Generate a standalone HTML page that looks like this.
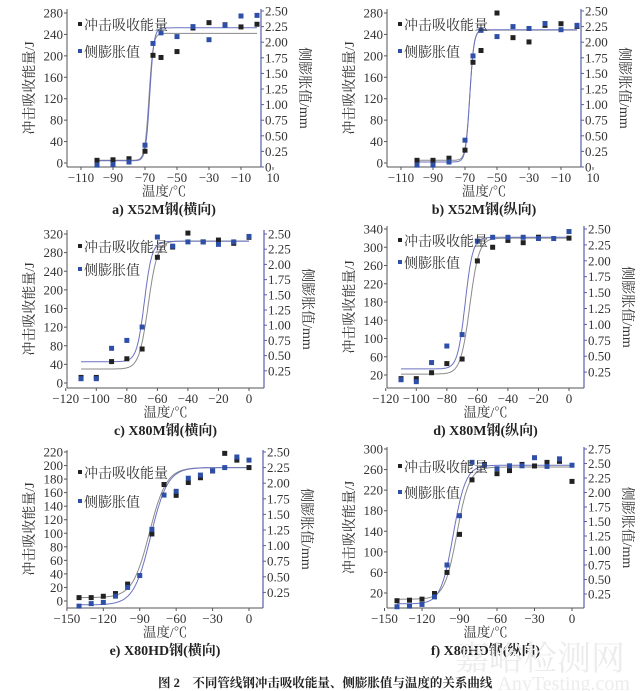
<!DOCTYPE html>
<html><head><meta charset="utf-8"><style>
html,body{margin:0;padding:0;background:#fff;}
svg{display:block;font-family:"Liberation Serif","Noto Serif CJK SC",serif;}
</style></head><body>
<svg id="s" width="643" height="691" viewBox="0 0 643 691" xmlns="http://www.w3.org/2000/svg"></svg>
<script>
var S=document.getElementById('s'),h='';
function T(x,y,t,o){o=o||{};h+='<text x="'+x+'" y="'+y+'" font-size="'+(o.fs||13)+'" fill="'+(o.c||'#333')+'" text-anchor="'+(o.a||'middle')+'"'+(o.tr?' transform="'+o.tr+'"':'')+(o.w?' font-weight="bold"':'')+'>'+t+'</text>';}
function L(x1,y1,x2,y2,c,w){h+='<line x1="'+x1+'" y1="'+y1+'" x2="'+x2+'" y2="'+y2+'" stroke="'+c+'" stroke-width="'+(w||1)+'"/>';}
function P(p){
 var X=function(t){return p.x0+p.xs*t;};
 var YL=function(v){return p.l0+(p.l1-p.l0)*(v-p.lv[0])/(p.lv[1]-p.lv[0]);};
 var YR=function(v){return p.r0+(p.r1-p.r0)*v/p.rmax;};
 var top=p.top,bot=p.bot;
 L(p.ax,top,p.ax,bot,'#555');L(p.ax,bot,p.bx,bot,'#555');L(p.bx,top,p.bx,bot,'#5860a8',1.2);
 p.lt.forEach(function(v){var y=YL(v);L(p.ax-3,y,p.ax,y,'#555');T(p.ax-4,y+4.5,v,{a:'end'});});
 p.rt.forEach(function(v){var y=YR(v);L(p.bx,y,p.bx+3,y,'#5860a8');T(p.bx+4,y+4.5,v==0?'0':v.toFixed(2),{a:'start'});});
 p.xt.forEach(function(v){var x=X(v);L(x,bot,x,bot+3,'#555');T(x,bot+15,v<0?'\u2212'+(-v):v);});
 T((p.ax+p.bx)/2,bot+29,'温度/℃',{fs:13.5});
 T((p.ax+p.bx)/2,bot+47,p.cap,{fs:14,w:1,c:'#222'});
 var cy=(top+bot)/2;
 T(p.ax-33,cy,'冲击吸收能量/J',{fs:14,tr:'rotate(-90 '+(p.ax-33)+' '+cy+')'});
 T(p.bx+39,cy,'侧膨胀值/mm',{fs:14,tr:'rotate(90 '+(p.bx+39)+' '+cy+')'});
 function cur(f,c){var d='';for(var t=p.cr[0];t<=p.cr[1];t+=0.5){d+=(d?'L':'M')+X(t).toFixed(1)+' '+f(t).toFixed(1);}h+='<path d="'+d+'" fill="none" stroke="'+c+'" stroke-width="1"/>';}
 var b=p.bc,u=p.uc;
 cur(function(t){return YL(b[0]+(b[1]-b[0])/(1+Math.exp(-(t-b[2])/b[3])));},'#8a8a8a');
 cur(function(t){return YR(u[0]+(u[1]-u[0])/(1+Math.exp(-(t-u[2])/u[3])));},'#6a72c0');
 p.bk.forEach(function(q){h+='<rect x="'+(X(q[0])-2.5)+'" y="'+(YL(q[1])-2.5)+'" width="5" height="5" fill="#222"/>';});
 p.bl.forEach(function(q){h+='<rect x="'+(X(q[0])-2.5)+'" y="'+(YR(q[1])-2.5)+'" width="5" height="5" fill="#2e4fa8"/>';});
 h+='<rect x="'+(p.ax+11)+'" y="'+(top+p.lg[0]-3)+'" width="4" height="4" fill="#222"/>';
 T(p.ax+17,top+p.lg[0]+5,'冲击吸收能量',{fs:14,a:'start'});
 h+='<rect x="'+(p.ax+11)+'" y="'+(top+p.lg[1]-3)+'" width="4" height="4" fill="#2e4fa8"/>';
 T(p.ax+17,top+p.lg[1]+5,'侧膨胀值',{fs:14,a:'start'});
}
var xa=[-110,-90,-70,-50,-30,-10,10],r25=[0,0.25,0.5,0.75,1,1.25,1.5,1.75,2,2.25,2.5],r25b=r25.slice(1);
var A={x0:257,xs:1.6,ax:67,bx:261,top:9,bot:167,l0:163,l1:13,lv:[0,280],r0:167,r1:11,rmax:2.5,lt:[0,40,80,120,160,200,240,280],rt:r25,xt:xa,cap:'a) X52M钢(横向)',cr:[-100,0],lg:[16,43],
bc:[5,242,-67.5,1.3],uc:[0.1,2.23,-67,1.3],
bk:[[-100,5],[-90,6],[-80,8],[-70,22],[-65,201],[-60,197],[-50,208],[-40,252],[-30,262],[-20,258],[-10,254],[0,259]],
bl:[[-100,0.03],[-90,0.04],[-80,0.08],[-70,0.35],[-65,1.98],[-60,2.15],[-50,2.09],[-40,2.25],[-30,2.04],[-20,2.27],[-10,2.42],[0,2.43]]};
P(A);
var B=JSON.parse(JSON.stringify(A));B.x0=577;B.ax=387;B.bx=581;B.cap='b) X52M钢(纵向)';B.bc=[5,248,-67,1.3];B.uc=[0.08,2.2,-67,1.3];
B.bk=[[-100,5],[-90,5],[-80,9],[-70,24],[-65,188],[-60,210],[-50,280],[-40,234],[-30,226],[-20,257],[-10,260],[0,255]];
B.bl=[[-100,0.03],[-90,0.03],[-80,0.08],[-70,0.43],[-65,1.78],[-60,2.19],[-50,2.09],[-40,2.25],[-30,2.22],[-20,2.3],[-10,2.2],[0,2.27]];
P(B);
var C={x0:249,xs:1.527,ax:67,bx:264,top:230,bot:388,l0:383,l1:234,lv:[0,320],r0:386,r1:234,rmax:2.5,lt:[0,40,80,120,160,200,240,280,320],rt:r25b,xt:[-120,-100,-80,-60,-40,-20,0],cap:'c) X80M钢(横向)',cr:[-110,0],lg:[17,40],
bc:[30,305,-66,3],uc:[0.4,2.38,-68.5,2.5],
bk:[[-110,12],[-100,12],[-90,46],[-80,52],[-70,73],[-60,270],[-50,292],[-40,322],[-30,303],[-20,307],[-10,300],[0,313]],
bl:[[-110,0.12],[-100,0.12],[-90,0.62],[-80,0.75],[-70,0.97],[-60,2.45],[-50,2.3],[-40,2.37],[-30,2.37],[-20,2.33],[-10,2.37],[0,2.46]]};
P(C);
var D={x0:569,xs:1.527,ax:387,bx:584,top:226,bot:388,l0:375,l1:229,lv:[20,340],r0:388,r1:229,rmax:2.5,lt:[20,60,100,140,180,220,260,300,340],rt:r25b,xt:[-120,-100,-80,-60,-40,-20,0],cap:'d) X80M钢(纵向)',cr:[-110,0],lg:[15,37],
bc:[22,320,-65,3],uc:[0.3,2.37,-68,2.5],
bk:[[-110,12],[-100,12],[-90,25],[-80,45],[-70,55],[-60,270],[-50,300],[-40,315],[-30,310],[-20,322],[0,320]],
bl:[[-110,0.13],[-100,0.1],[-90,0.4],[-80,0.66],[-70,0.84],[-60,2.31],[-50,2.37],[-40,2.37],[-30,2.37],[-20,2.35],[-10,2.35],[0,2.46]]};
P(D);
var E={x0:249,xs:1.214,ax:67,bx:263,top:450,bot:608,l0:601,l1:452,lv:[0,220],r0:608,r1:452,rmax:2.5,lt:[0,20,40,60,80,100,120,140,160,180,200,220],rt:r25b,xt:[-150,-120,-90,-60,-30,0],cap:'e) X80HD钢(横向)',cr:[-140,0],lg:[23,52],
bc:[5,197,-82,7],uc:[0.05,2.25,-81,7],
bk:[[-140,5],[-130,5],[-120,7],[-110,11],[-100,25],[-80,99],[-70,172],[-60,156],[-50,175],[-40,182],[-30,192],[-20,218],[-10,208],[0,197]],
bl:[[-140,0.03],[-130,0.07],[-120,0.09],[-110,0.19],[-100,0.33],[-90,0.52],[-80,1.26],[-70,1.81],[-60,1.87],[-50,2.08],[-40,2.13],[-30,2.2],[-20,2.25],[-10,2.42],[0,2.37]]};
P(E);
var F={x0:572,xs:1.25,ax:387,bx:584,top:447,bot:608,l0:593,l1:449,lv:[20,300],r0:608.5,r1:449,rmax:2.75,lt:[20,60,100,140,180,220,260,300],rt:r25b.concat([2.75]),xt:[-150,-120,-90,-60,-30,0],cap:'f) X80HD钢(纵向)',cr:[-140,0],lg:[20,46],
bc:[8,265,-92,5],uc:[0.08,2.47,-95,5],
bk:[[-140,5],[-130,6],[-120,8],[-110,19],[-100,60],[-90,134],[-80,240],[-70,270],[-60,252],[-50,258],[-40,270],[-30,267],[-20,274],[-10,276],[0,237]],
bl:[[-140,0.03],[-130,0.04],[-120,0.07],[-110,0.2],[-100,0.75],[-90,1.6],[-80,2.52],[-70,2.47],[-60,2.41],[-50,2.46],[-40,2.46],[-30,2.6],[-20,2.45],[-10,2.58],[0,2.47]]};
P(F);
T(158,687,'图 2　不同管线钢冲击吸收能量、侧膨胀值与温度的关系曲线',{fs:12.5,a:'start',w:1,c:'#222'});
T(625,670,'嘉峪检测网',{fs:34,c:'#ececec',a:'end'});
T(630,690,'AnyTesting.com',{fs:20,c:'#ececec',a:'end'});
S.innerHTML=h;
</script>
</body></html>
